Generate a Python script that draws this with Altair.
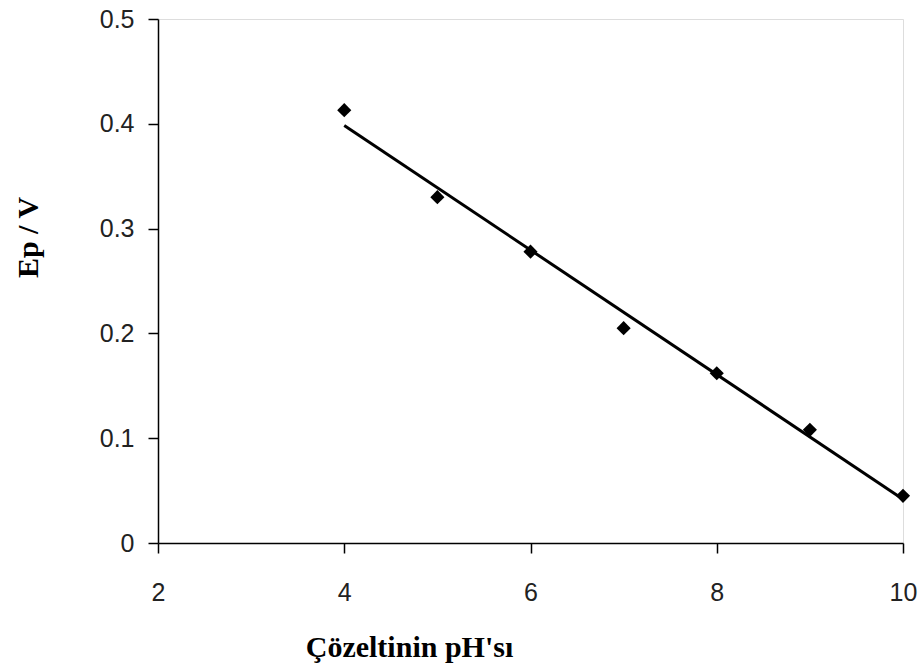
import altair as alt
import pandas as pd

ph = [4, 5, 6, 7, 8, 9, 10]
ep = [0.413, 0.330, 0.278, 0.205, 0.162, 0.108, 0.045]
x_ticks = [2, 4, 6, 8, 10]
y_ticks = [0, 0.1, 0.2, 0.3, 0.4, 0.5]

df = pd.DataFrame({"ph": ph, "ep": ep})

x_enc = alt.X("ph:Q", scale=alt.Scale(domain=[2, 10], nice=False),
              axis=alt.Axis(values=x_ticks, format="~g", title="Çözeltinin pH'sı", grid=False,
                            labelFont="Liberation Sans", labelFontSize=25, labelColor="#222",
                            labelPadding=27, labelFlush=False, tickSize=10, tickColor="black",
                            tickWidth=1.5, domainColor="black", domainWidth=1.5,
                            titleFont="Liberation Serif", titleFontSize=30, titleFontWeight="bold",
                            titleColor="black", titleX=251, titleY=104, titleAnchor="middle",
                            titleBaseline="middle"))
y_enc = alt.Y("ep:Q", scale=alt.Scale(domain=[0, 0.5], nice=False),
              axis=alt.Axis(values=y_ticks, format="~g", title="Ep / V", grid=False,
                            labelFont="Liberation Sans", labelFontSize=25, labelColor="#222",
                            labelPadding=14, labelFlush=False, tickSize=10, tickColor="black",
                            tickWidth=1.5, domainColor="black", domainWidth=1.5,
                            titleFont="Liberation Serif", titleFontSize=30, titleFontWeight="bold",
                            titleColor="black", titleX=-130, titleY=218, titleAnchor="middle",
                            titleAngle=270, titleBaseline="middle"))

points = alt.Chart(df).mark_point(shape="diamond", filled=True, color="black", size=200, opacity=1).encode(
    x=x_enc, y=y_enc)

trend = alt.Chart(df).transform_regression("ph", "ep", method="linear", extent=[4, 10]).mark_line(
    color="black", strokeWidth=3).encode(x="ph:Q", y="ep:Q")

chart = (trend + points).properties(
    width=745, height=524,
    autosize=alt.AutoSizeParams(type="none"),
    padding={"left": 158, "top": 19, "right": 17, "bottom": 124},
).configure_view(stroke=None).configure(background="white")

chart.save("out.html", embed_options={"renderer": "svg", "actions": False})
